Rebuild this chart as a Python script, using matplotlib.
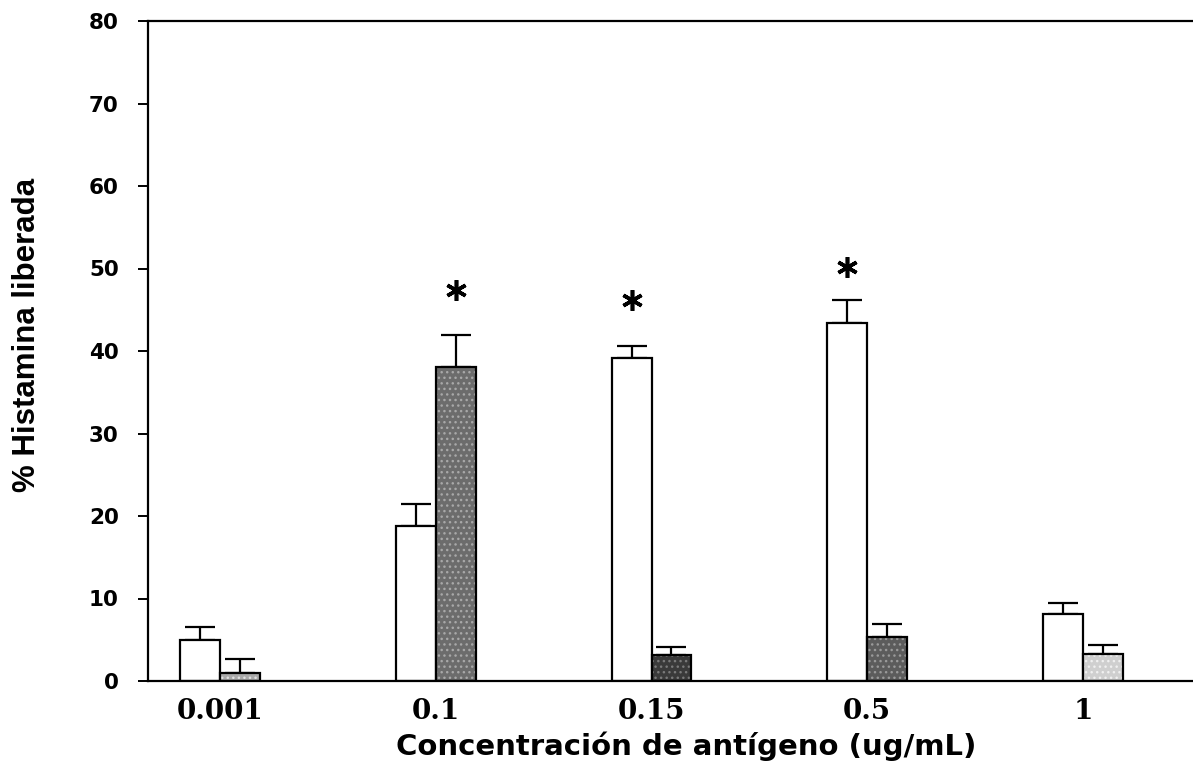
import matplotlib
matplotlib.use("Agg")
import matplotlib.pyplot as plt
from matplotlib import font_manager
import numpy as np

# ---- data ----
concentrations = ["0.001", "0.1", "0.15", "0.5", "1"]
white_values = [5.0, 18.8, 39.2, 43.4, 8.1]
white_errors = [1.6, 2.7, 1.4, 2.8, 1.4]
shaded_values = [1.0, 38.1, 3.1, 5.3, 3.3]
shaded_errors = [1.7, 3.8, 1.0, 1.6, 1.1]
shaded_colors = ["#a9a9a9", "#6c6c6c", "#3a3a3a", "#5c5c5c", "#cfcfcf"]
stipple_colors = ["#e0e0e0", "#a8a8a8", "#7a7a7a", "#9a9a9a", "#f0f0f0"]
# significance marks: (group index, which bar: 0 white / 1 shaded, y level)
stars = [(1, 1, 47.4), (2, 0, 46.2), (3, 0, 50.2)]
y_ticks = [0, 10, 20, 30, 40, 50, 60, 70, 80]

plt.rcParams["hatch.linewidth"] = 1.0

fig = plt.figure(figsize=(11.93, 7.70), dpi=100)
ax = fig.add_axes([148/1193, 89/770, 1045/1193, 660/770])

x = np.arange(len(concentrations))
w = 0.185

ax.bar(x - w/2, white_values, width=w, color="white", edgecolor="black",
       linewidth=1.6, zorder=2)
# shaded bars: fill, stipple texture, black outline
ax.bar(x + w/2, shaded_values, width=w, color=shaded_colors, linewidth=0,
       zorder=2)
ax.bar(x + w/2, shaded_values, width=w, fill=False, edgecolor=stipple_colors,
       hatch="...", linewidth=0, zorder=2.1)
ax.bar(x + w/2, shaded_values, width=w, fill=False, edgecolor="black",
       linewidth=1.6, zorder=2.2)

ax.errorbar(x - w/2, white_values, yerr=[np.zeros(len(x)), white_errors],
            fmt="none", ecolor="black", elinewidth=1.6, capsize=10.5,
            capthick=1.6, zorder=1)
ax.errorbar(x + w/2, shaded_values, yerr=[np.zeros(len(x)), shaded_errors],
            fmt="none", ecolor="black", elinewidth=1.6, capsize=10.5,
            capthick=1.6, zorder=1)

for gi, bi, yv in stars:
    xp = gi - w/2 if bi == 0 else gi + w/2
    ax.plot([xp], [yv], marker=(6, 2, 0), markersize=15, markeredgewidth=2.6,
            color="black", linestyle="none")

ax.set_xlim(-0.334, 4.51)
ax.set_ylim(0, 80)

ax.set_yticks(y_ticks)
ax.set_yticklabels([str(t) for t in y_ticks], fontfamily="DejaVu Sans",
                   fontweight="bold", fontsize=15.5)
ax.tick_params(axis="y", direction="out", length=7, width=1.4, pad=14)

ax.set_xticks(x)
ax.set_xticklabels(concentrations, fontfamily="DejaVu Serif",
                   fontweight="bold", fontsize=20)
ax.tick_params(axis="x", length=0, pad=12)

for s in ["left", "bottom", "top"]:
    ax.spines[s].set_linewidth(1.6)
ax.spines["right"].set_visible(False)

names = {f.name for f in font_manager.fontManager.ttflist}
if "Liberation Sans Narrow" in names:
    yl_family, yl_size = "Liberation Sans Narrow", 27
else:
    yl_family, yl_size = "Liberation Sans", 22.5

ax.set_ylabel("% Histamina liberada", fontfamily=yl_family,
              fontweight="bold", fontsize=yl_size)
ax.yaxis.set_label_coords((27 - 148) / 1045, (681 - 335) / 660)

ax.set_xlabel("Concentración de antígeno (ug/mL)", fontfamily="DejaVu Sans",
              fontweight="bold", fontsize=21)
ax.xaxis.set_label_coords((686 - 148) / 1045, (681 - 746) / 660)
ax.xaxis.label.set_va("center")
ax.yaxis.label.set_va("center")

fig.savefig("out.png", dpi=100)
